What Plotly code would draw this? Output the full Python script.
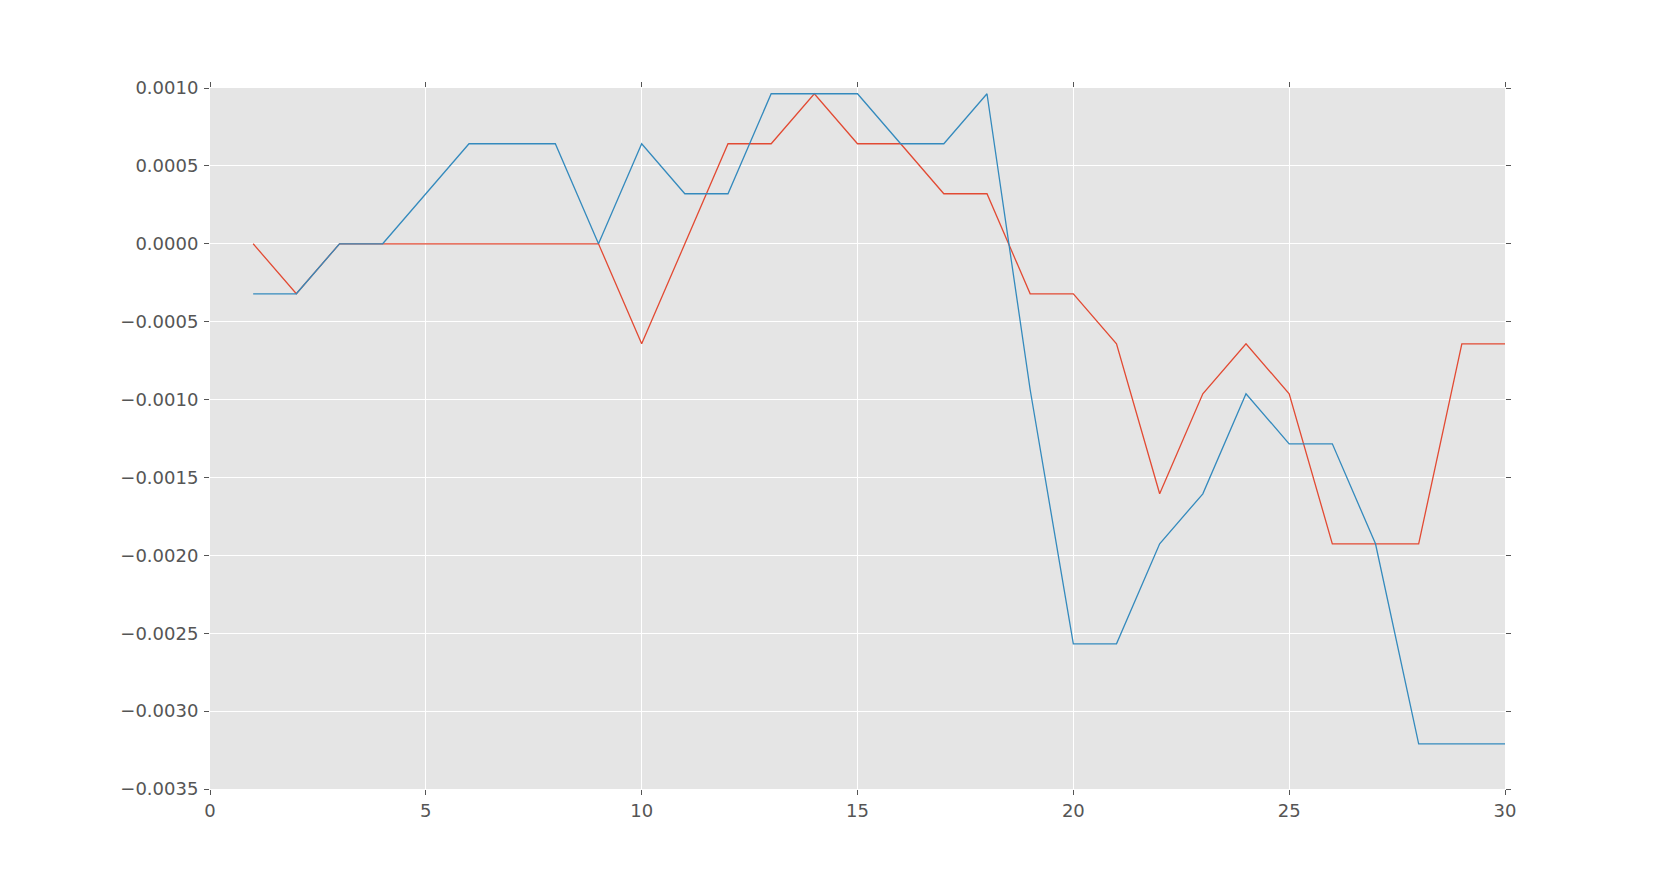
import plotly.graph_objects as go

# data
x_vals = list(range(1, 31))
red_vals = [0.0, -0.000321, 0.0, 0.0, 0.0, 0.0, 0.0, 0.0, 0.0, -0.000642,
            0.0, 0.000642, 0.000642, 0.000963, 0.000642, 0.000642, 0.000321, 0.000321, -0.000321, -0.000321,
            -0.000642, -0.001605, -0.000963, -0.000642, -0.000963, -0.001926, -0.001926, -0.001926, -0.000642, -0.000642]
blue_vals = [-0.000321, -0.000321, 0.0, 0.0, 0.000321, 0.000642, 0.000642, 0.000642, 0.0, 0.000642,
             0.000321, 0.000321, 0.000963, 0.000963, 0.000963, 0.000642, 0.000642, 0.000963, -0.000937, -0.002568,
             -0.002568, -0.001926, -0.001605, -0.000963, -0.001284, -0.001284, -0.001926, -0.003210, -0.003210, -0.003210]

x_ticks = [0, 5, 10, 15, 20, 25, 30]
y_ticks = [0.0010, 0.0005, 0.0, -0.0005, -0.0010, -0.0015, -0.0020, -0.0025, -0.0030, -0.0035]
y_labels = ['0.0010', '0.0005', '0.0000', '\u22120.0005', '\u22120.0010', '\u22120.0015',
            '\u22120.0020', '\u22120.0025', '\u22120.0030', '\u22120.0035']

fig = go.Figure()
fig.add_trace(go.Scatter(x=x_vals, y=red_vals, mode='lines',
                         line=dict(color='#E24A33', width=1.3)))
fig.add_trace(go.Scatter(x=x_vals, y=blue_vals, mode='lines',
                         line=dict(color='#348ABD', width=1.3)))

axis_style = dict(showgrid=True, gridcolor='white', gridwidth=1, zeroline=False,
                  ticks='outside', ticklen=5, tickcolor='#555555', tickwidth=1,
                  showline=True, linecolor='white', linewidth=1, mirror='ticks',
                  tickfont=dict(family='DejaVu Sans', size=18, color='#555555'))

# page body has an 8px margin, so the figure is shrunk and shifted to match
fig.update_layout(
    width=1656, height=862,
    margin=dict(l=202, r=159, t=80, b=81),
    paper_bgcolor='white', plot_bgcolor='#E5E5E5',
    showlegend=False,
    xaxis=dict(range=[0, 30], tickvals=x_ticks, ticklabelstandoff=0, **axis_style),
    yaxis=dict(range=[-0.0035, 0.0010], tickvals=y_ticks, ticktext=y_labels,
               ticklabelstandoff=2, **axis_style),
)

fig.write_html("out.html")
